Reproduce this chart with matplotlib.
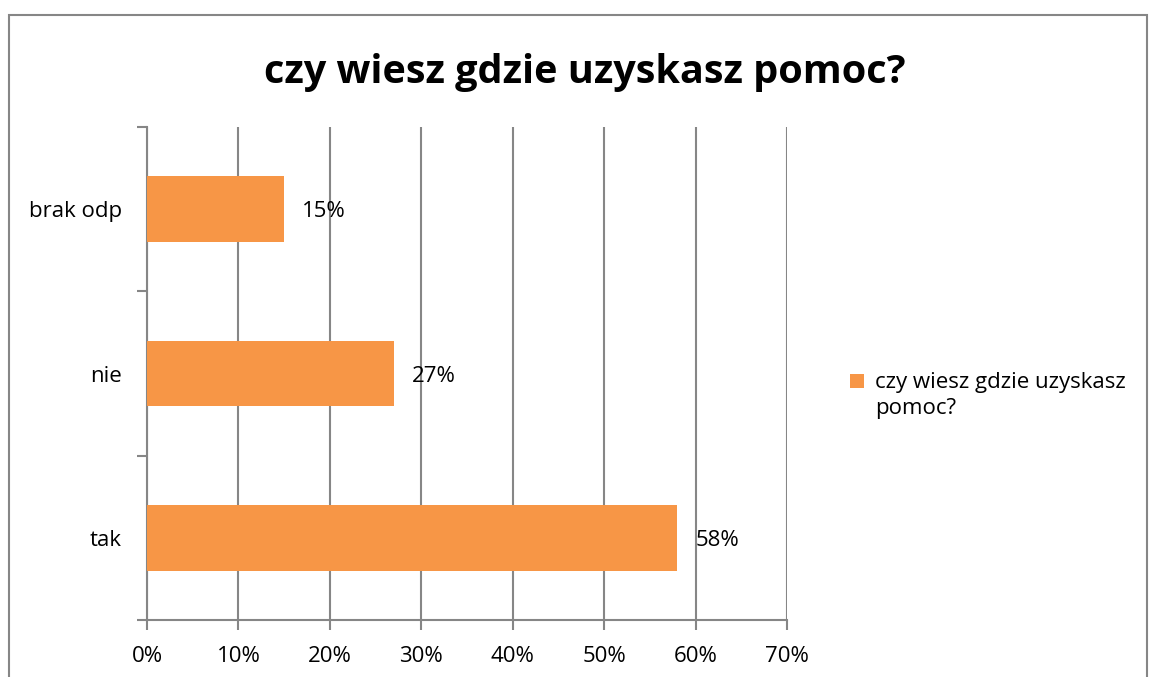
import matplotlib.pyplot as plt
from matplotlib.patches import Rectangle
from matplotlib.legend_handler import HandlerPatch

# dane
kategorie = ["tak", "nie", "brak odp"]
wartosci = [0.58, 0.27, 0.15]
etykiety = ["58%", "27%", "15%"]
xticks = [0, 0.1, 0.2, 0.3, 0.4, 0.5, 0.6, 0.7]
xtick_labels = ["0%", "10%", "20%", "30%", "40%", "50%", "60%", "70%"]
tytul = "czy wiesz gdzie uzyskasz pomoc?"
legenda = "czy wiesz gdzie uzyskasz\npomoc?"

kolor = "#F79646"
szary = "#868686"
fs = 16

plt.rcParams["font.family"] = ["Open Sans", "DejaVu Sans"]

W, H = 1150, 677
fig = plt.figure(figsize=(W / 100, H / 100), dpi=100)

# ramka wykresu
fig.patches.append(Rectangle((9 / W, -0.05), (1147 - 9) / W, 1.05 - 15 / H,
                             transform=fig.transFigure, fill=False,
                             edgecolor=szary, linewidth=1.5))

ax = fig.add_axes([147 / W, 1 - 620 / H, (787 - 147) / W, (620 - 127) / H])

pos = range(len(kategorie))
bars = ax.barh(pos, wartosci, height=0.4, color=kolor, zorder=3)

for p, v, t in zip(pos, wartosci, etykiety):
    ax.text(v + 0.02, p, t, va="center_baseline", ha="left",
            fontsize=fs, zorder=4)

ax.set_xlim(0, 0.7)
ax.set_ylim(-0.5, 2.5)
ax.set_xticks(xticks)
ax.set_xticklabels(xtick_labels, fontsize=fs)
ax.set_yticks(list(pos))
ax.set_yticklabels(kategorie, fontsize=fs)
ax.set_yticks([-0.5, 0.5, 1.5, 2.5], minor=True)

ax.grid(axis="x", color=szary, linewidth=1.5, zorder=0)
for s in ["top", "right"]:
    ax.spines[s].set_visible(False)
for s in ["left", "bottom"]:
    ax.spines[s].set_color(szary)
    ax.spines[s].set_linewidth(1.5)

ax.tick_params(axis="x", length=7, width=1.5, color=szary, pad=12)
ax.tick_params(axis="y", which="major", length=0, pad=18)
ax.tick_params(axis="y", which="minor", length=7, width=1.5, color=szary)

fig.text(0.5 + 10 / W, 1 - 72 / H, tytul, ha="center", va="center",
         fontsize=28.5, fontweight="bold")


# znacznik legendy na wysokosci pierwszej linii
def kwadrat(legend, orig_handle, xdescent, ydescent, width, height, fontsize):
    return Rectangle((-xdescent, -ydescent + 10.5), width, height)


leg = fig.legend([bars[0]], [legenda], loc="upper left",
                 bbox_to_anchor=(841 / W, 1 - 363 / H),
                 frameon=False, fontsize=fs, handlelength=0.62,
                 handleheight=0.62, handletextpad=0.5, borderaxespad=0,
                 handler_map={Rectangle: HandlerPatch(patch_func=kwadrat)})
for t in leg.get_texts():
    t.set_linespacing(1.35)

fig.savefig("out.png", dpi=100)
